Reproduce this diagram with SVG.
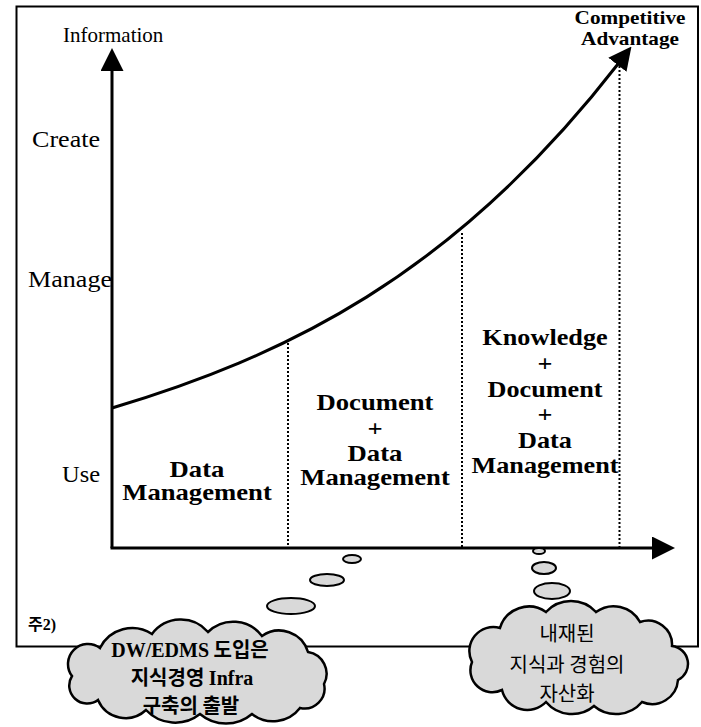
<svg xmlns="http://www.w3.org/2000/svg" width="701" height="727" viewBox="0 0 701 727">
<style>
.frame{fill:none;stroke:#000;stroke-width:2}
.axis{fill:none;stroke:#000;stroke-width:3}
.dot{fill:none;stroke:#000;stroke-width:2;stroke-dasharray:2 2}
.cloud{fill:#d9d9d9;stroke:#000;stroke-width:2.5}
.bub{fill:#d9d9d9;stroke:#000;stroke-width:2}
.lab{font-family:"Liberation Serif",serif;font-size:24px;fill:#000}
.info{font-family:"Liberation Serif",serif;font-size:21px;fill:#000}
.bold{font-family:"Liberation Serif",serif;font-weight:bold;font-size:23px;fill:#000;text-anchor:middle}
.ca{font-family:"Liberation Serif",serif;font-weight:bold;font-size:18px;fill:#000;text-anchor:middle}
.kr{font-family:"Noto Sans CJK KR",sans-serif;font-size:20px;fill:#000}
.krb{font-family:"Noto Sans CJK KR",sans-serif;font-size:20px;font-weight:bold;fill:#000}
.sb{font-family:"Liberation Serif",serif;font-weight:bold}
</style>
<defs>
<marker id="arrow" markerUnits="userSpaceOnUse" markerWidth="23" markerHeight="23" viewBox="0 0 23 23" refX="1" refY="11.5" orient="auto">
<path d="M0,0 L23,11.5 L0,23 Z" fill="#000"/>
</marker>
</defs>
<rect class="frame" x="16.5" y="6.5" width="681.5" height="640"/>
<g id="connectors">
<line class="axis" x1="112" y1="548" x2="112" y2="70" marker-end="url(#arrow)"/>
<line class="axis" x1="110.5" y1="548" x2="653" y2="548" marker-end="url(#arrow)"/>
<path class="axis" d="M112,408 C282,357 452,278 618,64" marker-end="url(#arrow)"/>
<line class="dot" x1="288" y1="343" x2="288" y2="547"/>
<line class="dot" x1="462" y1="233" x2="462" y2="547"/>
<line class="dot" x1="619.5" y1="66" x2="619.5" y2="547"/>
</g>
<g id="axis-labels">
<text class="info" x="63" y="42">Information</text>
<text class="lab" x="32" y="147" textLength="68" lengthAdjust="spacingAndGlyphs">Create</text>
<text class="lab" x="28" y="287" textLength="84" lengthAdjust="spacingAndGlyphs">Manage</text>
<text class="lab" x="62" y="482" textLength="38" lengthAdjust="spacingAndGlyphs">Use</text>
</g>
<g id="competitive-advantage" transform="translate(630 0) scale(1.18 1)">
<text class="ca" x="0" y="24">Competitive</text>
<text class="ca" x="0" y="45">Advantage</text>
</g>
<g id="stage1" transform="translate(197 0) scale(1.16 1)">
<text class="bold" x="0" y="477">Data</text>
<text class="bold" x="0" y="500">Management</text>
</g>
<g id="stage2" transform="translate(375 0) scale(1.16 1)">
<text class="bold" x="0" y="410">Document</text>
<text class="bold" x="0" y="436">+</text>
<text class="bold" x="0" y="461">Data</text>
<text class="bold" x="0" y="485">Management</text>
</g>
<g id="stage3" transform="translate(545 0) scale(1.14 1)">
<text class="bold" x="0" y="345">Knowledge</text>
<text class="bold" x="0" y="371">+</text>
<text class="bold" x="0" y="397">Document</text>
<text class="bold" x="0" y="422">+</text>
<text class="bold" x="0" y="448">Data</text>
<text class="bold" x="0" y="473">Management</text>
</g>
<g id="note">
<text x="28" y="630" style="font-size:16px;font-weight:bold"><tspan style="font-family:'Noto Sans CJK KR',sans-serif">주</tspan><tspan class="sb">2)</tspan></text>
</g>
<g id="bubbles-left">
<ellipse class="bub" cx="352" cy="559" rx="9" ry="4"/>
<ellipse class="bub" cx="327" cy="580" rx="17" ry="6"/>
<ellipse class="bub" cx="291" cy="606" rx="24" ry="8"/>
</g>
<g id="bubbles-right">
<ellipse class="bub" cx="539" cy="551" rx="6" ry="3"/>
<ellipse class="bub" cx="544" cy="568" rx="12" ry="6"/>
<ellipse class="bub" cx="552" cy="591" rx="18" ry="8"/>
</g>
<g id="cloud-left">
<path class="cloud" d="M72,676 A20,20 0 0 1 100,648 A36,36 0 0 1 152,634 A36,36 0 0 1 208,632 A36,36 0 0 1 262,636 A30,30 0 0 1 308,652 A22,22 0 0 1 324,684 A20,20 0 0 1 300,708 A34,34 0 0 1 252,714 A40,40 0 0 1 200,714 A40,40 0 0 1 146,710 A30,30 0 0 1 98,700 A18,18 0 0 1 72,676 Z"/>
<text class="krb" x="190" y="657" text-anchor="middle"><tspan class="sb">DW/EDMS</tspan> 도입은</text>
<text class="krb" x="192" y="685" text-anchor="middle">지식경영 <tspan class="sb">Infra</tspan></text>
<text class="krb" x="191" y="713" text-anchor="middle">구축의 출발</text>
</g>
<g id="cloud-right">
<path class="cloud" d="M472,662 A24,24 0 0 1 500,628 A30,30 0 0 1 546,612 A34,34 0 0 1 596,612 A30,30 0 0 1 640,622 A24,24 0 0 1 672,646 A18,18 0 0 1 678,680 A26,26 0 0 1 642,702 A34,34 0 0 1 594,706 A34,34 0 0 1 546,702 A26,26 0 0 1 502,690 A22,22 0 0 1 472,662 Z"/>
<text class="kr" x="567" y="641" text-anchor="middle">내재된</text>
<text class="kr" x="567" y="672" text-anchor="middle">지식과 경험의</text>
<text class="kr" x="567" y="701" text-anchor="middle">자산화</text>
</g>
</svg>
